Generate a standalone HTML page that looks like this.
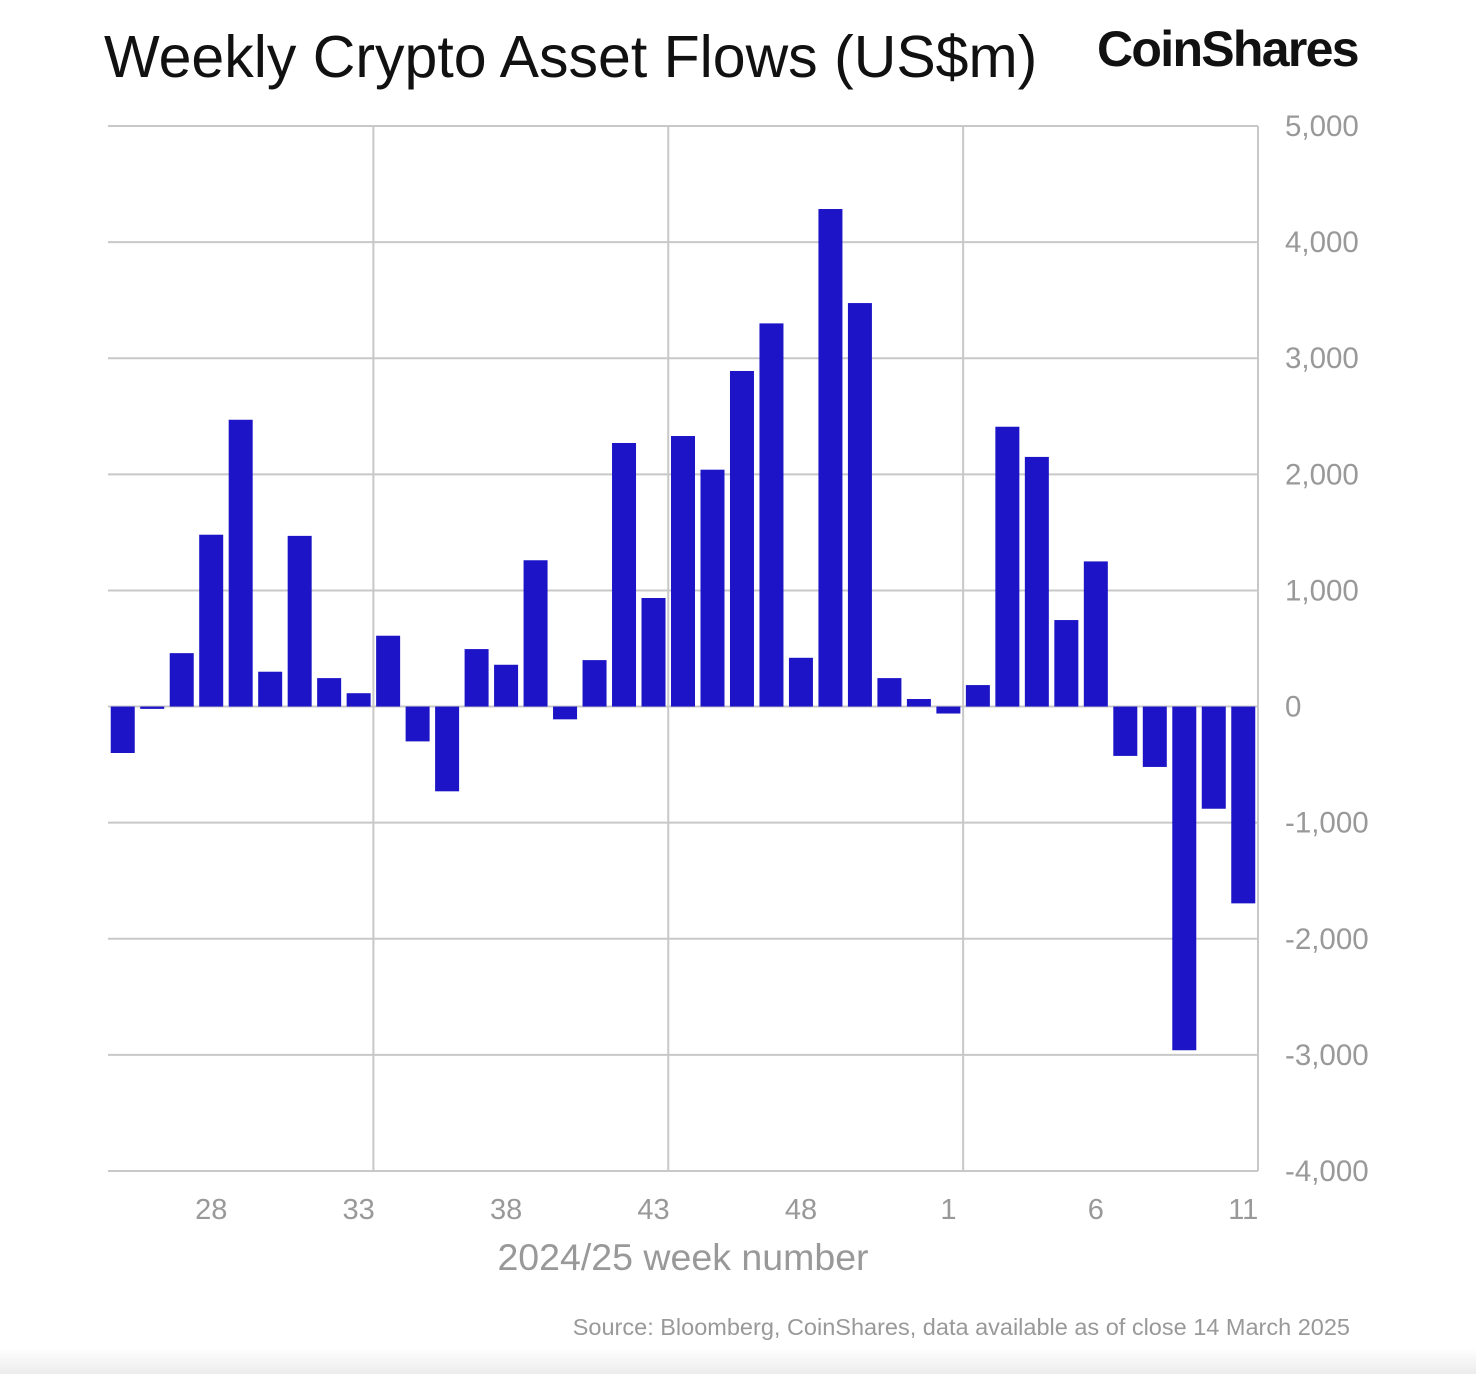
<!DOCTYPE html>
<html><head><meta charset="utf-8"><style>
html,body{margin:0;padding:0;background:#fff;}
body{width:1476px;height:1374px;position:relative;overflow:hidden;font-family:"Liberation Sans",sans-serif;}
#title{position:absolute;left:104px;top:23px;font-size:59px;color:#111;white-space:nowrap;}
#logo{position:absolute;left:1097px;top:20px;font-size:50px;font-weight:bold;color:#111;letter-spacing:-1.7px;}
#band{position:absolute;left:0;top:1348px;width:1476px;height:26px;background:linear-gradient(#fff,#ececec);}
</style></head><body>
<div id="title">Weekly Crypto Asset Flows (US$m)</div>
<div id="logo">CoinShares</div>
<svg id="chart" width="1476" height="1374" style="position:absolute;left:0;top:0"></svg>
<div id="band"></div>
<script>
const weeks=[25,26,27,28,29,30,31,32,33,34,35,36,37,38,39,40,41,42,43,44,45,46,47,48,49,50,51,52,1,2,3,4,5,6,7,8,9,10,11];
const flows=[-400,-20,460,1480,2470,300,1470,245,115,610,-300,-730,495,360,1260,-110,400,2270,935,2330,2040,2890,3300,420,4285,3475,245,65,-60,185,2410,2150,745,1250,-425,-520,-2960,-880,-1695];
const yTicks=[5000,4000,3000,2000,1000,0,-1000,-2000,-3000,-4000];
const xTickWeeks=[28,33,38,43,48,1,6,11];
const NS="http://www.w3.org/2000/svg";
const svg=document.getElementById('chart');
const L=108,R=1258,T=126,B=1171,ymax=5000,ymin=-4000;
const slot=(R-L)/weeks.length;
const y=v=>T+(ymax-v)/(ymax-ymin)*(B-T);
const xc=i=>L+slot*(i+0.5);
function mk(tag,attrs,txt){const e=document.createElementNS(NS,tag);for(const k in attrs)e.setAttribute(k,attrs[k]);if(txt!==undefined)e.textContent=txt;svg.appendChild(e);return e;}
yTicks.forEach(t=>{
 const g=mk('line',{x1:L,x2:R,y1:y(t),y2:y(t),stroke:'#c8c8c8','stroke-width':2});
 
 
 const lb=mk('text',{x:1285,y:y(t)+10,'font-size':29.5,fill:'#999','font-family':'Liberation Sans, sans-serif'},t.toLocaleString('en-US'));
 
 
});
[9,19,29,39].forEach(k=>{
 const g=mk('line',{x1:L+slot*k,x2:L+slot*k,y1:T,y2:B,stroke:'#c8c8c8','stroke-width':2});
 
 
});
weeks.forEach((w,i)=>{
 const v=flows[i];
 const r=mk('rect',{x:xc(i)-12,width:24,y:Math.min(y(v),y(0)),height:Math.max(1.5,Math.abs(y(v)-y(0))),fill:'#1c14c6'});
 
 
});
xTickWeeks.forEach(w=>{
 const i=weeks.indexOf(w);
 const lb=mk('text',{x:xc(i),y:1219,'text-anchor':'middle','font-size':29,fill:'#999','font-family':'Liberation Sans, sans-serif'},String(w));
 
 
});
const xt=mk('text',{x:683,y:1270,'text-anchor':'middle','font-size':37.5,fill:'#999','font-family':'Liberation Sans, sans-serif'},'2024/25 week number');


const src=mk('text',{x:1350,y:1335,'text-anchor':'end','font-size':23.5,fill:'#999','font-family':'Liberation Sans, sans-serif'},'Source: Bloomberg, CoinShares, data available as of close 14 March 2025');


</script>
</body></html>
